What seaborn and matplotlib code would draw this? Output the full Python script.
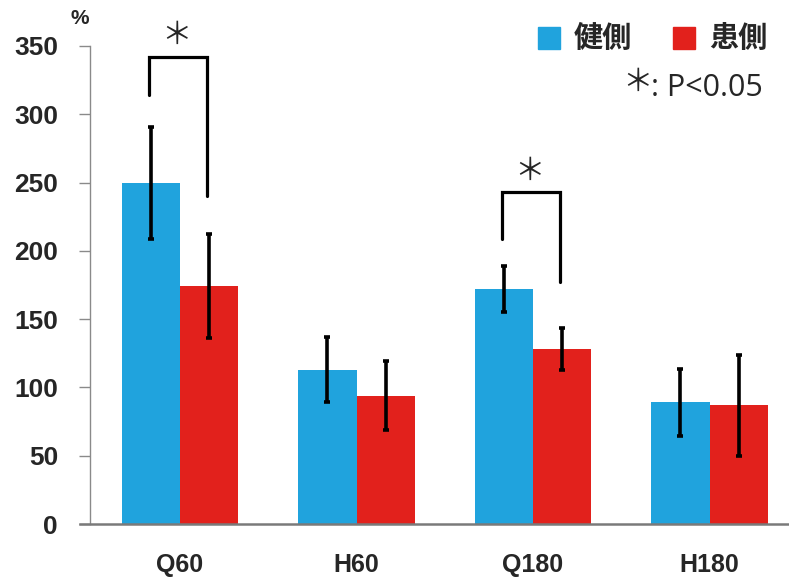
import matplotlib
matplotlib.use("Agg")
import matplotlib.pyplot as plt
import seaborn as sns
import pandas as pd
import numpy as np

categories = ["Q60", "H60", "Q180", "H180"]
groups = ["健側", "患側"]
healthy = [250, 113, 172, 89]
affected = [174, 94, 128, 87]
healthy_err = [41, 24, 17, 24.5]
affected_err = [38, 25.5, 15.5, 37]
yticks = [0, 50, 100, 150, 200, 250, 300, 350]
# significance brackets: (category index, left bottom, top, right bottom, asterisk y)
brackets = [(0, 314, 342, 240, 358), (2, 209, 243, 177, 258)]

colors = ["#20A3DD", "#E2211C"]

sns.set_theme(style="white")
plt.rcParams['font.family'] = ['Liberation Sans', 'Noto Sans CJK JP', 'DejaVu Sans']

df = pd.DataFrame({
    "cat": categories * 2,
    "grp": [groups[0]] * 4 + [groups[1]] * 4,
    "val": healthy + affected,
})

fig = plt.figure(figsize=(7.89, 5.81), dpi=100)
ax = fig.add_axes([0.114, 0.098, 0.886, 0.823])
sns.barplot(data=df, x="cat", y="val", hue="grp", order=categories, hue_order=groups,
            palette=colors, width=0.66, gap=0, errorbar=None, ax=ax, legend=False,
            saturation=1, linewidth=0)

errs = [healthy_err, affected_err]
centers = []
bar_conts = list(ax.containers)
for ci, cont in enumerate(bar_conts):
    xs = [p.get_x() + p.get_width() / 2 for p in cont.patches]
    hs = [p.get_height() for p in cont.patches]
    centers.append(xs)
    ax.errorbar(xs, hs, yerr=errs[ci], fmt="none", ecolor="black", elinewidth=2.6,
                capsize=2.2, capthick=2.6, zorder=5)

for (i, lb, top, rb, sy) in brackets:
    xl = centers[0][i] - 0.01
    xr = centers[1][i] - 0.01
    ax.plot([xl, xl, xr, xr], [lb, top, top, rb], color="black", lw=2.3,
            solid_joinstyle="miter", clip_on=False, zorder=6)
    ax.text((xl + xr) / 2 - 0.01, sy, "＊", ha="center", va="center", fontsize=22,
            family=['Noto Sans CJK JP', 'DejaVu Sans'], clip_on=False)

ax.set_ylim(0, 350)
ax.set_xlim(-0.51, 3.45)
ax.set_yticks(yticks)
ax.set_yticklabels([str(t) for t in yticks], fontsize=19, fontweight="bold")
ax.set_xticks(range(len(categories)))
ax.set_xticklabels(categories, fontsize=18, fontweight="bold")
ax.set_xlabel("")
ax.set_ylabel("")
ax.tick_params(axis="y", which="both", left=True, length=8, width=1, color="#8a8a8a", pad=15)
ax.tick_params(axis="x", bottom=False, pad=15)
for s in ["top", "right"]:
    ax.spines[s].set_visible(False)
ax.spines["left"].set_color("#8a8a8a")
ax.spines["left"].set_linewidth(1)
ax.spines["bottom"].set_color("#7a7a7a")
ax.spines["bottom"].set_linewidth(1.8)
ax.spines["bottom"].set_bounds(-0.567, 3.45)

fig.text(0.101, 0.968, "%", fontsize=15, fontweight="bold", ha="center", va="center")

# legend
from matplotlib.patches import Rectangle
fig.patches.append(Rectangle((538 / 789, 1 - 49 / 581), 22 / 789, 22 / 581,
                             transform=fig.transFigure, color=colors[0]))
fig.patches.append(Rectangle((673 / 789, 1 - 49 / 581), 22 / 789, 22 / 581,
                             transform=fig.transFigure, color=colors[1]))
fig.text(574 / 789, 1 - 38 / 581, groups[0], fontsize=21, fontweight="bold",
         family=['Noto Sans CJK JP', 'DejaVu Sans'], ha="left", va="center")
fig.text(709 / 789, 1 - 38 / 581, groups[1], fontsize=21, fontweight="bold",
         family=['Noto Sans CJK JP', 'DejaVu Sans'], ha="left", va="center")
fig.text(637 / 789, 1 - 82 / 581, "＊", fontsize=22,
         family=['Noto Sans CJK JP', 'DejaVu Sans'], ha="center", va="center")
fig.text(651 / 789, 1 - 88 / 581, ": P<0.05", fontsize=22,
         family=['Open Sans', 'DejaVu Sans'], ha="left", va="center")

fig.savefig("out.png", dpi=100)
